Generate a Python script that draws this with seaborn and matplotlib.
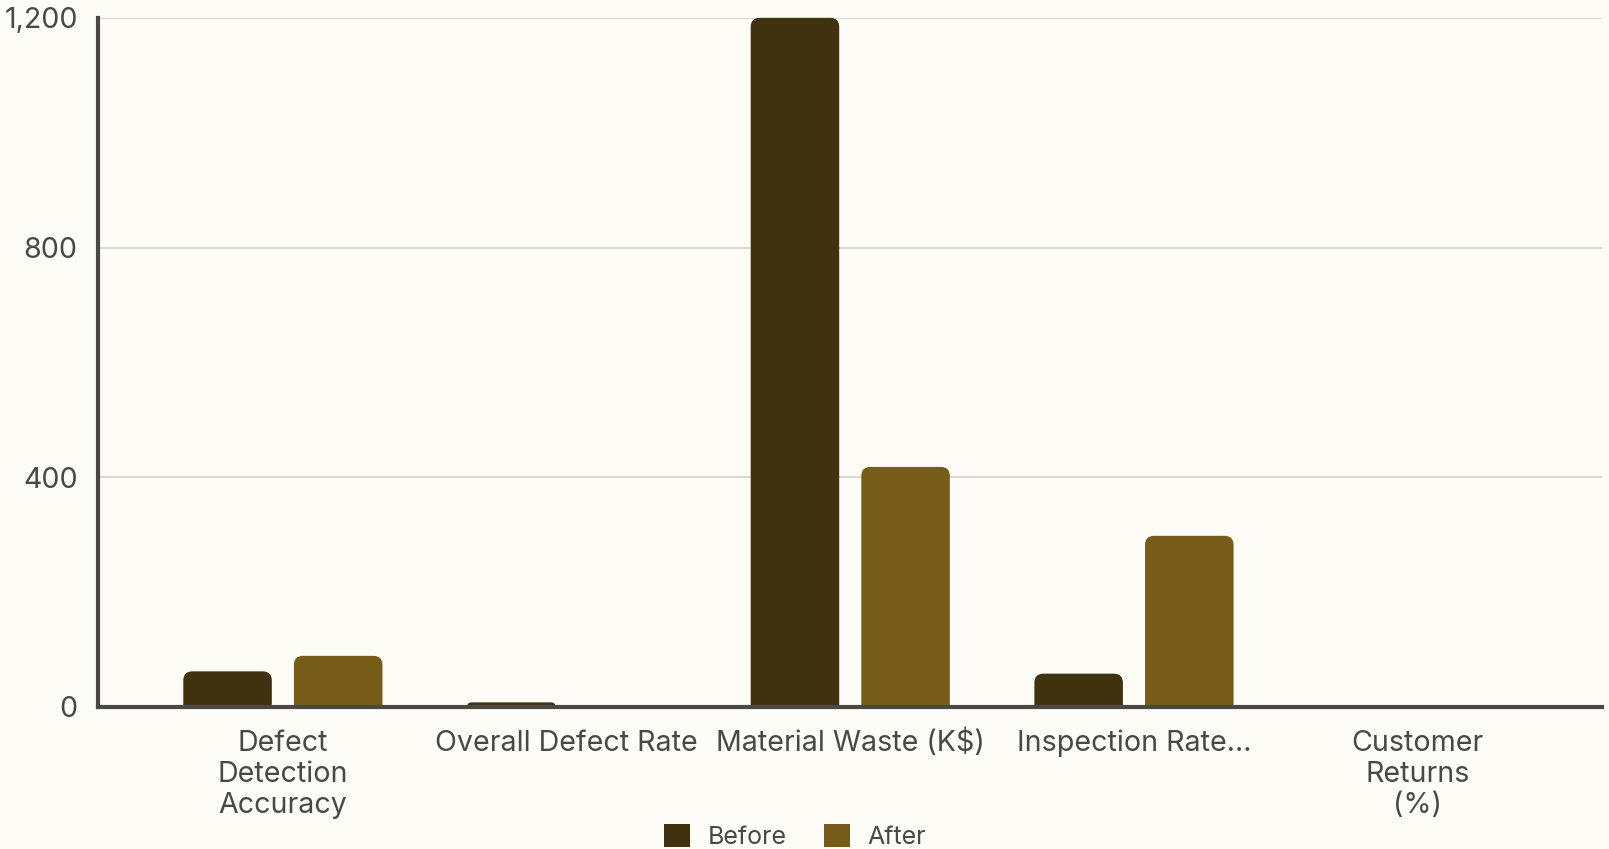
import matplotlib
matplotlib.use("Agg")
import matplotlib.pyplot as plt
from matplotlib.path import Path
from matplotlib.patches import PathPatch, Patch
from matplotlib.ticker import FuncFormatter
from matplotlib import transforms
import seaborn as sns
import pandas as pd

# ---- data ----
metrics = [
    "Defect Detection Accuracy",
    "Overall Defect Rate",
    "Material Waste (K$)",
    "Inspection Rate...",
    "Customer Returns (%)",
]
tick_labels = [
    "Defect\nDetection\nAccuracy",
    "Overall Defect Rate",
    "Material Waste (K$)",
    "Inspection Rate...",
    "Customer\nReturns\n(%)",
]
phases = ["Before", "After"]
before_values = [62, 8, 1200, 58, 2.5]
after_values = [89, 0.8, 418, 298, 0.8]
y_ticks = [0, 400, 800, 1200]

# ---- style ----
BG = "#FDFCF7"
INK = "#4A4744"
GRID = "#DAD8D2"
colors = {"Before": "#40320E", "After": "#775B19"}
FONT = ["Inter", "DejaVu Sans"]
FS = 20.6

sns.set_theme(style="white")
plt.rcParams["font.family"] = FONT
plt.rcParams["text.color"] = INK
plt.rcParams["xtick.color"] = INK
plt.rcParams["ytick.color"] = INK

df = pd.DataFrame({
    "metric": metrics * 2,
    "phase": ["Before"] * len(metrics) + ["After"] * len(metrics),
    "value": before_values + after_values,
})

fig = plt.figure(figsize=(16.09, 8.49), dpi=100, facecolor=BG)
ax = fig.add_axes([0.0612, 0.1673, 0.9345, 0.8117])
ax.set_facecolor(BG)

sns.barplot(
    data=df, x="metric", y="value", hue="phase",
    order=metrics, hue_order=phases, palette=colors,
    width=0.78, gap=0.2, legend=False, errorbar=None,
    saturation=1, ax=ax,
)

ax.set_xlim(-0.65, len(metrics) - 0.35)
ax.set_ylim(0, 1200)
ax.set_yticks(y_ticks)
ax.yaxis.set_major_formatter(FuncFormatter(lambda v, p: f"{int(v):,}"))
ax.set_xticks(range(len(metrics)))
ax.set_xticklabels([])
ax.tick_params(axis="y", labelsize=FS, length=10, width=3, pad=5)
ax.tick_params(axis="x", length=8, width=3)
ax.set_xlabel("")
ax.set_ylabel("")

# Category labels, one text per line so every first line shares a baseline
label_trans = ax.get_xaxis_transform()
line_step = 30.8
for i, label in enumerate(tick_labels):
    for j, line in enumerate(label.split("\n")):
        tr = transforms.offset_copy(label_trans, fig=fig, x=0,
                                    y=-(44.5 + j * line_step), units="dots")
        ax.text(i, 0, line, transform=tr, ha="center", va="baseline",
                fontsize=FS, color=INK, clip_on=False)

ax.yaxis.grid(True, color=GRID, linewidth=1.5)
ax.set_axisbelow(True)
for side in ["top", "right"]:
    ax.spines[side].set_visible(False)
for side in ["left", "bottom"]:
    ax.spines[side].set_color(INK)
    ax.spines[side].set_linewidth(3)
    ax.spines[side].set_zorder(5)

# Replace square bars with bars that have rounded top corners
fig.canvas.draw()
origin = ax.transData.transform((0, 0))
unit = ax.transData.transform((1, 1)) - origin
radius_px = 9
rx_full = radius_px / unit[0]
ry_full = radius_px / unit[1]

bars = list(ax.patches)
for bar in bars:
    x0, y0 = bar.get_x(), bar.get_y()
    w, h = bar.get_width(), bar.get_height()
    color = bar.get_facecolor()
    bar.remove()
    if h <= 0:
        continue
    ry = min(ry_full, h)
    rx = min(rx_full, w / 2) * (ry / ry_full)
    verts = [
        (x0, y0),
        (x0, y0 + h - ry),
        (x0, y0 + h),
        (x0 + rx, y0 + h),
        (x0 + w - rx, y0 + h),
        (x0 + w, y0 + h),
        (x0 + w, y0 + h - ry),
        (x0 + w, y0),
        (x0, y0),
    ]
    codes = [
        Path.MOVETO, Path.LINETO, Path.CURVE3, Path.CURVE3,
        Path.LINETO, Path.CURVE3, Path.CURVE3, Path.LINETO, Path.CLOSEPOLY,
    ]
    ax.add_patch(PathPatch(Path(verts, codes), facecolor=color,
                           edgecolor="none", clip_on=False, zorder=3))

handles = [Patch(facecolor=colors[p], edgecolor="none", label=p) for p in phases]
fig.legend(
    handles=handles, loc="center", bbox_to_anchor=(0.494, 0.0145),
    ncol=2, frameon=False, fontsize=18, handlelength=1.05, handleheight=1.05,
    columnspacing=1.5, handletextpad=0.7, borderpad=0.2,
)

fig.savefig("out.png", dpi=100, facecolor=BG)
